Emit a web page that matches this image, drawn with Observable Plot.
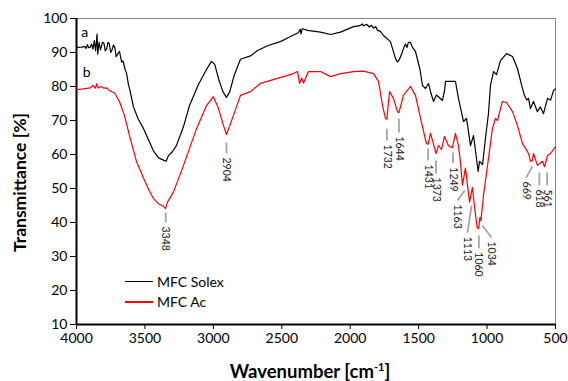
<!DOCTYPE html>
<html><head><meta charset="utf-8">
<script src="https://cdn.jsdelivr.net/npm/d3@7"></script>
<script src="https://cdn.jsdelivr.net/npm/@observablehq/plot@0.6"></script>
<style>
body{margin:0;background:#fff;}
#chart{position:relative;width:568px;height:381px;font-family:Lato,"Open Sans",sans-serif;}
.legend{position:absolute;left:125px;top:271px;font-size:14px;color:#000;}
.legend .row{display:flex;align-items:center;height:20.5px;}
.legend .sw{width:28px;height:1.5px;margin-right:4px;}
</style></head><body><div id="chart"></div>
<script>
// [wavenumber cm-1, transmittance %]
const solex = [
[4000,91.5],[3960,91.6],[3940,91.8],[3930,91.2],[3920,92.3],[3910,91.4],[3900,91.5],[3890,92.5],[3880,91.0],[3870,93.5],[3860,90.5],
[3850,95.4],[3845,89.5],[3835,93],[3825,90.8],[3820,91.5],[3810,93],[3800,92.8],[3790,90.5],[3780,91],[3770,93],[3760,92.5],[3750,90],[3740,90.8],[3730,92.2],[3720,91.5],
[3710,88.8],[3700,89.5],[3686,90.3],[3670,87.2],[3660,87.5],[3645,85],[3635,84],[3620,80.5],[3610,79],[3584,74],[3550,70.5],[3510,67.6],[3470,64],
[3437,61],[3400,59],[3357,58.2],[3345,58.0],[3330,59.5],[3300,60.8],[3270,62.6],[3220,68],[3174,74.4],
[3110,80.5],[3050,85],[3014,87.4],[2990,86.5],[2960,82],[2930,78.5],[2904,76.8],[2880,78.5],[2850,83],
[2802,88],[2729,89],[2680,90.5],[2605,92],[2510,93.2],[2436,94.7],[2380,95.8],[2365,96.8],[2360,95.5],
[2350,97],[2312,96.5],[2217,96],[2144,95.3],[2071,96],[1976,97.6],[1930,97.9],[1910,98.4],[1903,97.8],[1880,98.3],[1860,97.5],[1845,98],[1830,97.2],[1815,97.6],[1800,96.5],[1779,96.2],
[1757,95],[1706,93.2],[1669,88.2],[1655,87.2],[1640,88],[1620,90],[1605,91.8],[1596,92.5],[1585,91.5],[1575,93],[1560,93],[1545,91.5],[1523,90.3],
[1490,85],[1472,80.3],[1450,79.4],[1428,80.9],[1410,78],[1391,75.6],[1370,77.5],[1355,77],[1326,75.9],
[1310,79],[1304,81.5],[1270,81.5],[1231,81.5],[1209,76.5],[1172,69.7],[1150,70.6],[1121,62.6],[1099,65.6],
[1065,55],[1055,58],[1033,57],[1012,64.7],[990,72],[975,80.3],[953,84.4],[931,83.5],[902,87.6],[858,89.7],
[814,88.8],[778,85.3],[741,79.4],[727,77.4],[710,76],[697,76.5],[683,73.5],[661,75.6],[632,72.6],[610,74],
[588,72],[558,76.5],[536,76],[515,78.8],[500,79.3]
];
const acetylated = [
[4000,79.1],[3950,79.3],[3900,79.6],[3880,80.3],[3860,79.5],[3854,80.8],[3840,79.6],[3820,80],[3800,79.5],
[3780,79.6],[3759,78.8],[3720,78],[3686,75.6],[3650,71.5],[3613,65.6],[3562,58],[3510,53],[3470,49.5],
[3437,47],[3400,45.5],[3365,44.8],[3350,44.1],[3335,46],[3291,49],[3218,56.8],[3123,67.6],[3050,74.4],
[3000,77],[2962,73.5],[2930,69],[2904,65.9],[2880,68.5],[2853,71.5],[2802,77.4],[2729,78.5],[2656,80.9],
[2531,82.4],[2414,83.8],[2385,84.4],[2370,80.9],[2355,82.5],[2341,81],[2305,84.4],[2217,84.4],[2144,82.9],
[2071,83.8],[1976,84.4],[1903,84.5],[1830,83.8],[1793,81.5],[1764,74.4],[1742,70.6],[1732,70.4],[1713,78.5],
[1684,76.5],[1655,72.6],[1644,72.3],[1611,77.4],[1560,80],[1523,77.4],[1486,70.6],[1443,63.2],[1431,63],
[1413,66.2],[1373,60.3],[1355,62.6],[1333,61.5],[1311,65.3],[1282,62.6],[1253,62],[1231,66.2],[1209,62.6],
[1195,58],[1180,51],[1158,56],[1128,46],[1107,50.3],[1090,44],[1072,38.5],[1062,38.2],[1052,41.5],
[1045,40.5],[1026,48],[990,58.8],[961,67.6],[939,70.6],[924,70],[888,75.6],[858,75.3],[814,72.6],[778,68.5],
[741,63.2],[719,61.8],[697,60.3],[683,58],[669,58.2],[661,60.3],[632,56.8],[595,58],[580,56.4],[558,59.7],
[536,60.3],[500,62.3]
];
const xTicks = [4000,3500,3000,2500,2000,1500,1000,500];
const yTicks = [10,20,30,40,50,60,70,80,90,100];
const seriesNames = ["MFC Solex","MFC Ac"];
const seriesColors = ["#000000","#ff0000"];
const tagText = ["a","b"];
const tagWn = [3940,3925];
const tagT = [96,84];
// peak annotations
const peakWn =      [3348,2904,1732,1644,1431,1373,1249,1163,1113,1060,1034,669,618,561];
const leaderTop =   [42.9,63.5,67.6,70.6,61.8,58.2,60.6,49.4,45.0,36.2,39.1,56.5,54.7,54.7];
const leaderBot =   [40.0,60.3,64.1,66.5,58.2,54.4,57.4,46.5,37.0,32.4,35.6,53.2,50.9,50.9];
const labelWn =     [3348,2904,1732,1644,1431,1373,1249,1216,1143,1060,968,714,618,561];

const peaks = peakWn.map((p,i)=>({p, top:leaderTop[i], bot:leaderBot[i], lx:labelWn[i]}));
const tags = tagText.map((t,i)=>({t, x:tagWn[i], y:tagT[i]}));

const chart = Plot.plot({
  width:568, height:381,
  marginLeft:76, marginRight:13, marginTop:18, marginBottom:57,
  style:{fontFamily:"Lato, 'Open Sans', sans-serif", fontSize:"14px", color:"#000", background:"#fff", overflow:"visible"},
  x:{domain:[4000,500], label:null},
  y:{domain:[10,100], label:null},
  marks:[
    Plot.frame({stroke:"#888", strokeWidth:1}),
    Plot.axisX({ticks:xTicks, tickSize:5, tickPadding:4, tickFormat:d=>String(d), fontSize:14, label:null}),
    Plot.axisY({ticks:yTicks, tickSize:6, tickPadding:3, fontSize:14, label:null}),
    Plot.ruleX([4000],{stroke:"#000", strokeWidth:2}),
    Plot.ruleY([10],{stroke:"#000", strokeWidth:2}),
    Plot.line(solex,{x:d=>d[0], y:d=>d[1], stroke:seriesColors[0], strokeWidth:1.2}),
    Plot.line(acetylated,{x:d=>d[0], y:d=>d[1], stroke:seriesColors[1], strokeWidth:1.2}),
    Plot.link(peaks,{x1:"p", y1:"top", x2:"lx", y2:"bot", stroke:"#a6a6a6", strokeWidth:1.8}),
    Plot.text(peaks,{x:"lx", y:"bot", text:d=>String(d.p), rotate:90, textAnchor:"start", lineAnchor:"middle", dy:4, fontSize:10.5, fill:"#222"}),
    Plot.text(tags,{x:"x", y:"y", text:"t", fontSize:14, fill:"#000"}),
    Plot.text(["Transmittance [%]"],{frameAnchor:"left", textAnchor:"middle", lineAnchor:"middle", rotate:-90, dx:-56, dy:11, fontWeight:"bold", fontSize:17.5, fill:"#000"}),
    Plot.text(["Wavenumber [cm-1]"],{frameAnchor:"bottom", textAnchor:"middle", lineAnchor:"middle", dx:-6, dy:48, fontWeight:"bold", fontSize:18.5, fill:"#000"})
  ]
});
document.getElementById("chart").appendChild(chart);
d3.select(chart).selectAll("text").filter(function(){return this.textContent==="Wavenumber [cm-1]";})
  .each(function(){
    const t = d3.select(this); t.text("");
    t.append("tspan").text("Wavenumber [cm");
    t.append("tspan").attr("dy","-7").attr("font-size","11").text("-1");
    t.append("tspan").attr("dy","7").text("]");
  });
const lg = d3.select("#chart").append("div").attr("class","legend");
seriesNames.forEach((n,i)=>{
  const r = lg.append("div").attr("class","row");
  r.append("div").attr("class","sw").style("background",seriesColors[i]);
  r.append("span").text(n);
});
</script></body></html>
